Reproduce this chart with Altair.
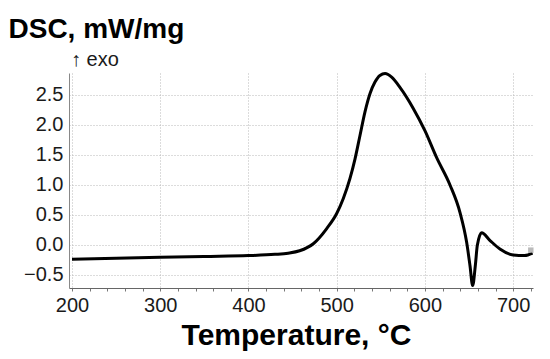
import altair as alt
import pandas as pd

temperature = [200, 250, 300, 350, 400, 430, 445, 458, 473.5, 488.7, 500, 507.5,
               515, 520.8, 526.4, 532, 537.8, 543.4, 549, 554.8, 562.3, 571.7,
               586.8, 600, 613.3, 628.3, 639.7, 647.3, 651.1, 654.1, 657.1,
               659.4, 664.3, 673.8, 685, 700, 713, 722]
dsc = [-0.24, -0.225, -0.21, -0.195, -0.18, -0.16, -0.14, -0.1, 0.017, 0.27,
       0.52, 0.77, 1.1, 1.43, 1.82, 2.21, 2.52, 2.71, 2.82, 2.85, 2.79, 2.62,
       2.27, 1.9, 1.45, 1.0, 0.54, 0.04, -0.35, -0.68, -0.35, -0.01, 0.2,
       0.07, -0.07, -0.17, -0.18, -0.14]

marker_T = [720]
marker_dsc = [-0.09]

x_ticks = list(range(200, 721, 20))
y_ticks = [-0.5, 0.0, 0.5, 1.0, 1.5, 2.0, 2.5]

df = pd.DataFrame({"T": temperature, "DSC": dsc})
dm = pd.DataFrame({"T": marker_T, "DSC": marker_dsc})
FONT = "Liberation Sans"

x = alt.X("T:Q", scale=alt.Scale(domain=[196.6, 722.5], nice=False, zero=False),
          axis=alt.Axis(values=x_ticks, labelOverlap=False,
                        labelExpr="datum.value % 100 === 0 ? datum.label : ''",
                        gridOpacity={"expr": "datum.value % 100 === 0 ? 1 : 0"},
                        tickSize=3, tickColor="#777", labelPadding=4,
                        domainColor="#666", gridColor="#b8b8b8", gridDash=[1, 2],
                        labelFontSize=20, labelFont=FONT, labelColor="#1a1a1a",
                        title="Temperature, °C", titleFontSize=30, titleFont=FONT,
                        titleFontWeight="bold", titleColor="#000",
                        titleBaseline="alphabetic", titleX=227, titleY=56))
y = alt.Y("DSC:Q", scale=alt.Scale(domain=[-0.72, 2.86], nice=False, zero=False),
          axis=alt.Axis(values=y_ticks, format=".1f", ticks=False, labelPadding=6,
                        labelOverlap=False,
                        domainColor="#888", gridColor="#b8b8b8", gridDash=[1, 2],
                        labelFontSize=20, labelFont=FONT, labelColor="#1a1a1a",
                        title="DSC, mW/mg", titleAngle=0, titleAlign="left",
                        titleBaseline="alphabetic", titleX=-61, titleY=-36,
                        titleFontSize=28, titleFont=FONT, titleFontWeight="bold",
                        titleColor="#000"))

line = alt.Chart(df).mark_line(color="#000", strokeWidth=3,
                               interpolate="monotone").encode(x=x, y=y)

marker = alt.Chart(dm).mark_point(shape="square", filled=True, color="#aaaaaa",
                                  size=30, opacity=0.8).encode(x=x, y=y)

exo = alt.Chart(pd.DataFrame({"t": ["↑ exo"]})).mark_text(
    align="left", baseline="alphabetic", fontSize=20, font=FONT, color="#1a1a1a"
).encode(x=alt.value(2), y=alt.value(-7), text="t:N")

chart = alt.layer(line, marker, exo).properties(
    width=464, height=215,
    autosize=alt.AutoSizeParams(type="none"),
    padding={"left": 61, "top": 65, "right": 9, "bottom": 63},
).configure_view(stroke=None)

chart.save("out.html", embed_options={"renderer": "svg", "actions": False})
